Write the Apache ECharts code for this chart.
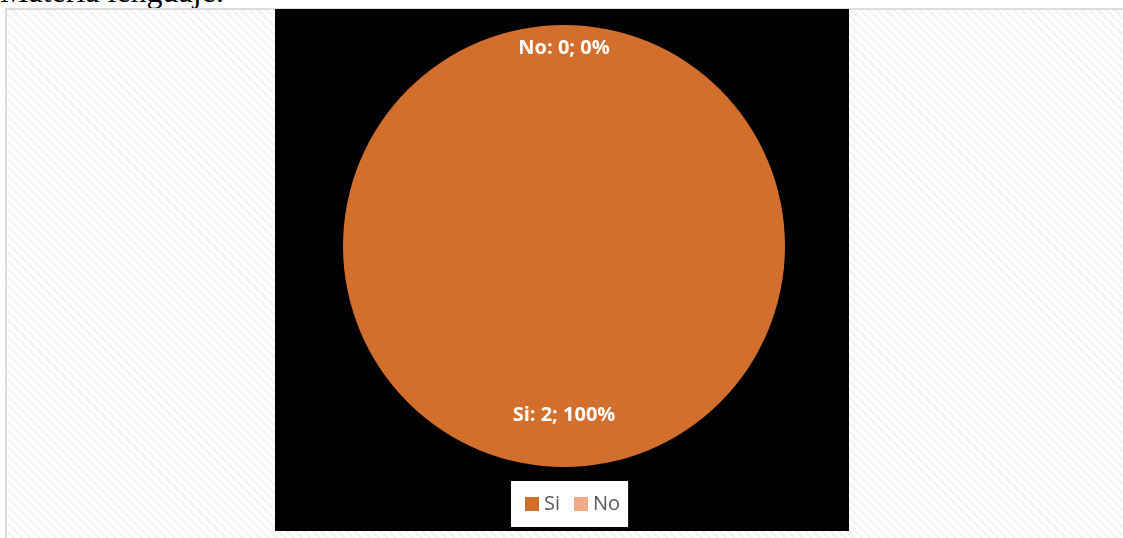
<!DOCTYPE html>
<html><head><meta charset="utf-8">
<script src="https://cdn.jsdelivr.net/npm/echarts@6/dist/echarts.min.js"></script>
<style>
html,body{margin:0;padding:0;width:1123px;height:538px;overflow:hidden;background:#fff;}
#title{position:absolute;left:0;top:-25px;font-family:"Liberation Serif",serif;font-size:32px;line-height:32px;color:#000;white-space:nowrap;}
#frame{position:absolute;left:5px;top:8px;width:1130px;height:540px;border:2px solid #dcdcdc;box-sizing:border-box;
 background:repeating-linear-gradient(45deg,#ffffff 0px,#ffffff 3px,#f5f5f5 3px,#f5f5f5 6px);}
#black{position:absolute;left:275px;top:9px;width:574px;height:522px;background:#000;}
#chart{position:absolute;left:0;top:0;width:1123px;height:538px;}
</style></head>
<body>
<div id="title">Materia lenguaje.</div>
<div id="frame"></div>
<div id="black"></div>
<div id="chart"></div>
<script>
const categories = ["Si", "No"];
const values = [2, 0];
const colors = ["#D36F2D", "#F4A98A"];
const labelDy = [56, -84];

const chart = echarts.init(document.getElementById('chart'), null, {renderer:'canvas'});
const total = values.reduce((a,b)=>a+b,0);
chart.setOption({
  backgroundColor: 'transparent',
  animation: false,
  legend: {
    data: categories,
    left: 511,
    bottom: 11,
    itemWidth: 14, itemHeight: 14, itemGap: 14,
    icon: 'rect',
    backgroundColor: '#fff',
    padding: [13, 8, 13, 14],
    textStyle: {fontFamily: '"Open Sans", sans-serif', fontSize: 20, color: '#595959'},
    selectedMode: false
  },
  series: [{
    type: 'pie',
    center: [564, 246],
    radius: [0, 221],
    startAngle: 90,
    clockwise: true,
    avoidLabelOverlap: false,
    minShowLabelAngle: 0,
    data: categories.map((c,i)=>({name:c, value:values[i], itemStyle:{color:colors[i]}})),
    label: {
      show: true, position: 'inside',
      color: '#fff', fontWeight: 'bold', fontSize: 20,
      fontFamily: '"Open Sans", sans-serif',
      formatter: p => p.name + ': ' + p.value + '; ' + Math.round(p.value/total*100) + '%'
    },
    labelLine: {show:false},
    labelLayout: p => ({dy: labelDy[p.dataIndex]}),
    itemStyle: {borderWidth: 0}
  }]
});
</script>
</body></html>
